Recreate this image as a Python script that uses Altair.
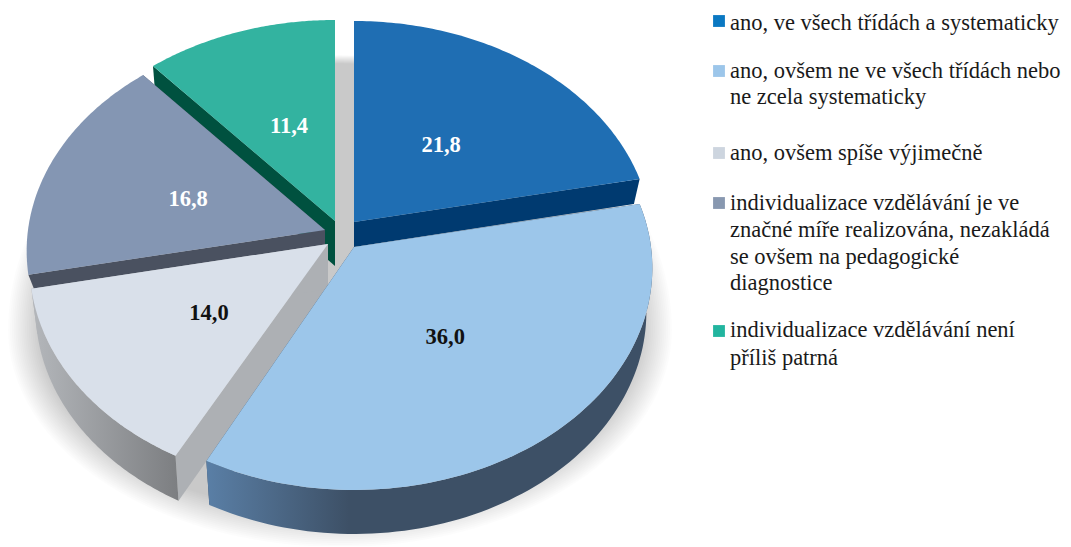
import numpy as np
import pandas as pd
import altair as alt

# ---- chart values ----
categories = [
    "ano, ve všech třídách a systematicky",
    "ano, ovšem ne ve všech třídách nebo\nne zcela systematicky",
    "ano, ovšem spíše výjimečně",
    "individualizace vzdělávání je ve\nznačné míře realizována, nezakládá\nse ovšem na pedagogické\ndiagnostice",
    "individualizace vzdělávání není\npříliš patrná",
]
values = [21.8, 36.0, 14.0, 16.8, 11.4]
value_labels = ["21,8", "36,0", "14,0", "16,8", "11,4"]

# ---- styling ----
top_colors = ["#1f6eb3", "#9cc6ea", "#d9e0ea", "#8496b3", "#33b3a0"]
legend_colors = ["#0a78c2", "#9cc6ea", "#cdd5df", "#8898b0", "#22b59f"]
label_colors = ["#ffffff", "#111111", "#111111", "#ffffff", "#ffffff"]
outer_wall = [None, ("#5a7fa6", "#3d5066", 0.32), ("#b4b7bb", "#7c7e81", 1.0), None, None]
inner_wall = ["#003a70", "#3d5066", "#adb0b4", "#4a5160", "#00513f"]
wall_heights = [25, 44, 45, 15, 45]
apexes = [(354, 222), (354, 247), (328, 244), (325, 230), (335, 221)]
end_trim_deg = [0, 1, 0, 0, 0]
label_radii = [0.48, 0.50, 0.49, 0.49, 0.47]
label_nudge = [(0, 2), (-1, -2), (1, 3), (-1, 3), (1, -2)]
A, B, P = 297.0, 220.0, 0.0945     # tilted-disc projection
WALL_SCALE = 0.98
paint_order = [0, 4, 3, 2, 1]
legend_baselines = [[30], [78, 104], [160], [210, 237, 264, 290], [337, 365]]
legend_square_y = [21, 71, 153, 203, 331]
FONT = "Liberation Serif"
LEGEND_SIZE = 22.5


def project(theta, r=1.0):
    u, v = r * np.sin(theta), r * np.cos(theta)
    d = 1 + P * v
    return A * u / d, -B * v / d


x_scale = alt.Scale(domain=[8, 1063], nice=False, zero=False)
y_scale = alt.Scale(domain=[546, 8], nice=False, zero=False)


def polygon(xs, ys, fill, **kw):
    df = pd.DataFrame({"x": xs, "y": ys, "i": np.arange(len(xs))})
    return alt.Chart(df).mark_line(filled=True, fill=fill, strokeWidth=0, **kw).encode(
        x=alt.X("x:Q", scale=x_scale, axis=None),
        y=alt.Y("y:Q", scale=y_scale, axis=None),
        order=alt.Order("i:Q"),
    )


def gradient(c0, c1, stop):
    return alt.Gradient(gradient="linear", x1=0, x2=1, y1=0, y2=0,
                        stops=[alt.GradientStop(color=c0, offset=0),
                               alt.GradientStop(color=c1, offset=stop),
                               alt.GradientStop(color=c1, offset=1)])


layers = []

# soft floor shadow
for t in np.linspace(0, 1, 18):
    rx = 332 - 32 * t
    up, low = 275 - 0 * t, 217 - 32 * t
    a = np.linspace(0, 2 * np.pi, 181)
    xs = 340 + rx * np.sin(a)
    c = np.cos(a)
    ys = 330 - np.where(c > 0, up * (1 - 0.03 * t), low) * c
    layers.append(polygon(xs, ys, "#000000", fillOpacity=0.0125))

# slices, from the values
edges = np.cumsum([0] + values) / sum(values) * 2 * np.pi
for k in paint_order:
    ax, ay = apexes[k]
    h = wall_heights[k]
    th = np.linspace(edges[k], edges[k + 1] - np.deg2rad(end_trim_deg[k]), 90)
    px, py = project(th)
    tx, ty = ax + px, ay + py
    bx, by = ax + WALL_SCALE * px, ay + py + h
    # cut faces
    for e in (0, -1):
        layers.append(polygon([ax, tx[e], bx[e], ax], [ay, ty[e], by[e], ay + h], inner_wall[k]))
    # outer wall
    if outer_wall[k]:
        layers.append(polygon(np.r_[tx, bx[::-1]], np.r_[ty, by[::-1]], gradient(*outer_wall[k])))
    # top surface
    layers.append(polygon(np.r_[ax, tx], np.r_[ay, ty], top_colors[k]))

# value labels
mid = (edges[:-1] + edges[1:]) / 2
pts = [project(mid[i], label_radii[i]) for i in range(5)]
lab = pd.DataFrame({
    "x": [apexes[i][0] + pts[i][0] + label_nudge[i][0] for i in range(5)],
    "y": [apexes[i][1] + pts[i][1] + label_nudge[i][1] for i in range(5)],
    "t": value_labels,
    "c": label_colors,
})
layers.append(alt.Chart(lab).mark_text(font=FONT, fontSize=22.5, fontWeight="bold", baseline="middle", align="center").encode(
    x=alt.X("x:Q", scale=x_scale, axis=None),
    y=alt.Y("y:Q", scale=y_scale, axis=None),
    text="t:N",
    color=alt.Color("c:N", scale=None),
))

# legend
rows, squares = [], []
for i, cat in enumerate(categories):
    for line, base in zip(cat.split("\n"), legend_baselines[i]):
        rows.append({"x": 730, "y": base, "t": line})
    squares.append({"x": 719, "y": legend_square_y[i], "c": legend_colors[i]})
layers.append(alt.Chart(pd.DataFrame(squares)).mark_square(size=140, opacity=1).encode(
    x=alt.X("x:Q", scale=x_scale, axis=None),
    y=alt.Y("y:Q", scale=y_scale, axis=None),
    color=alt.Color("c:N", scale=None),
))
layers.append(alt.Chart(pd.DataFrame(rows)).mark_text(font=FONT, fontSize=LEGEND_SIZE, align="left", baseline="alphabetic", color="#1a1a1a").encode(
    x=alt.X("x:Q", scale=x_scale, axis=None),
    y=alt.Y("y:Q", scale=y_scale, axis=None),
    text="t:N",
))

chart = alt.layer(*layers).properties(
    width=1055, height=538, padding=0, autosize=alt.AutoSizeParams(type="none")
).configure_view(stroke=None)
chart.save("out.html", embed_options={"renderer": "svg", "actions": False})
